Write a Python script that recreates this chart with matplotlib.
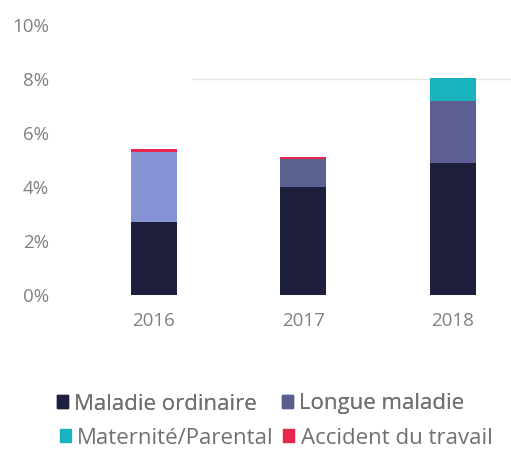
import matplotlib
matplotlib.use("Agg")
import matplotlib.pyplot as plt
from matplotlib.patches import Patch
from matplotlib.ticker import PercentFormatter

plt.rcParams['font.family'] = ['Open Sans', 'DejaVu Sans']

years = ['2016', '2017', '2018']
maladie_ordinaire = [2.7, 4.0, 4.9]
longue_maladie = [2.6, 1.05, 2.3]
maternite_parental = [0.0, 0.0, 0.85]
accident_travail = [0.12, 0.06, 0.0]

series_names = ['Maladie ordinaire', 'Longue maladie',
                'Maternité/Parental', 'Accident du travail']
colors = ['#1e1f3d', '#5a5e8c', '#19b3bd', '#e8264f']
longue_bar_colors = ['#8594d4', '#5a6290', '#5d5f95']

fig = plt.figure(figsize=(5.11, 4.5), dpi=100)
ax = fig.add_axes([70 / 511, 155 / 450, 441 / 511, 270 / 450])

x = range(len(years))
w = 0.31
bottom = [0.0] * 3
ax.bar(x, maladie_ordinaire, w, bottom=bottom, color=colors[0])
bottom = [b + v for b, v in zip(bottom, maladie_ordinaire)]
ax.bar(x, longue_maladie, w, bottom=bottom, color=longue_bar_colors)
bottom = [b + v for b, v in zip(bottom, longue_maladie)]
ax.bar(x, maternite_parental, w, bottom=bottom, color=colors[2])
bottom = [b + v for b, v in zip(bottom, maternite_parental)]
ax.bar(x, accident_travail, w, bottom=bottom, color=colors[3])

# faint line that runs across at 8%
ax.axhline(8, xmin=0.28, xmax=1, color='#e4e4e4', lw=1, zorder=0)

ax.set_ylim(0, 10)
ax.set_xlim(-0.56, 2.39)
ax.set_yticks([0, 2, 4, 6, 8, 10])
ax.yaxis.set_major_formatter(PercentFormatter(decimals=0))
ax.set_xticks(list(x))
ax.set_xticklabels(years)
ax.tick_params(length=0, labelsize=13.5, colors='#808080')
ax.tick_params(axis='x', pad=12)
ax.tick_params(axis='y', pad=15)
for s in ax.spines.values():
    s.set_visible(False)

h = [Patch(color=c) for c in colors]
leg1 = fig.legend(h[:2], series_names[:2], ncol=2, loc='center',
                  bbox_to_anchor=(0.51, 1 - 404 / 450), frameon=False,
                  fontsize=16, handlelength=0.5, handleheight=0.5,
                  handletextpad=0.3, columnspacing=1.1, labelcolor='#707070')
leg2 = fig.legend(h[2:], series_names[2:], ncol=2, loc='center',
                  bbox_to_anchor=(0.54, 1 - 438 / 450), frameon=False,
                  fontsize=16, handlelength=0.5, handleheight=0.5,
                  handletextpad=0.3, columnspacing=0.4, labelcolor='#707070')
fig.add_artist(leg1)

fig.savefig('out.png', dpi=100)
